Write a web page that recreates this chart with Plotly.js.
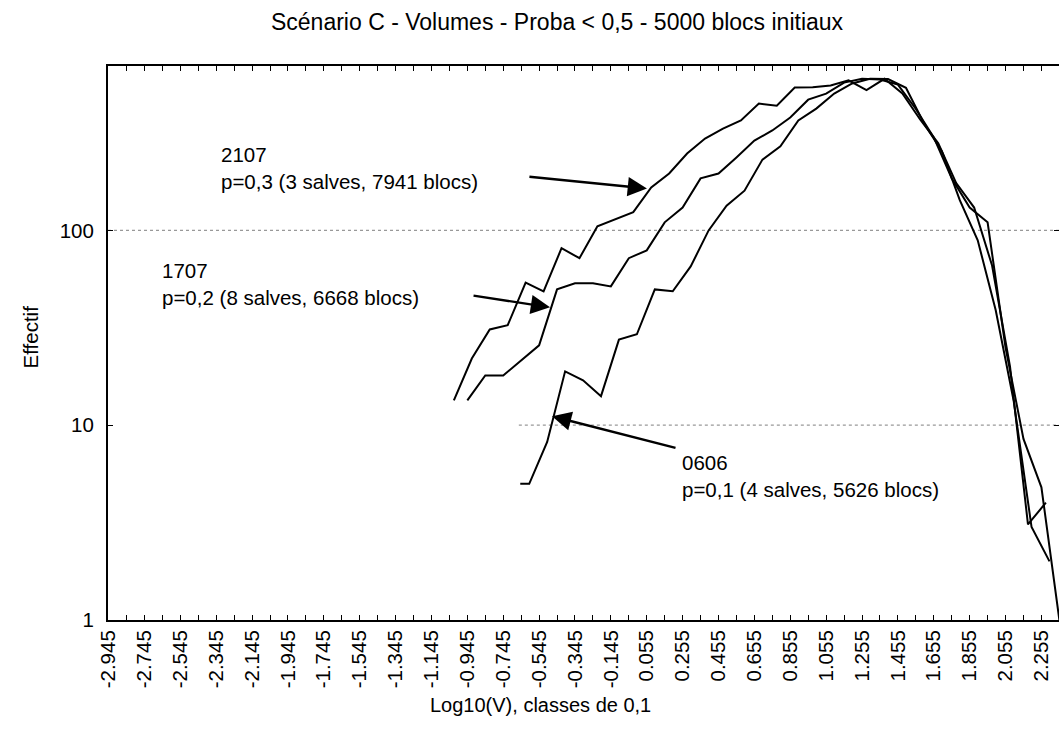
<!DOCTYPE html>
<html>
<head>
<meta charset="utf-8">
<script src="https://cdn.plot.ly/plotly-3.0.1.min.js"></script>
<style>
html,body{margin:0;padding:0;background:#fff;}
#chart{width:1059px;height:740px;}
</style>
</head>
<body>
<div id="chart"></div>
<script>
// Class positions (log10 V) and counts for each series
const x2107 = [-1.02,-0.92,-0.82,-0.72,-0.62,-0.52,-0.42,-0.32,-0.22,-0.12,-0.02,0.08,0.18,0.28,0.38,0.48,0.58,0.68,0.78,0.88,0.98,1.08,1.18,1.28,1.38,1.48,1.58,1.68,1.78,1.88,1.98,2.08,2.18,2.28];
const y2107 = [13.4,22,31,32.6,54,48.7,81,72,105,114,124,166,196,248,296,333,367,448,437,541,543,554,590,525,600,505,370,280,175,131,66,20,3.1,4.0];

const x1707 = [-0.945,-0.845,-0.745,-0.645,-0.545,-0.445,-0.345,-0.245,-0.145,-0.045,0.055,0.155,0.255,0.355,0.455,0.555,0.655,0.755,0.855,0.955,1.055,1.155,1.255,1.355,1.455,1.555,1.655,1.755,1.855,1.955,2.055,2.155,2.255,2.355];
const y1707 = [13.4,18,18,21.5,25.7,49.8,53.5,53.5,51.6,72,79,110,131,185,196,237,289,326,380,469,504,574,600,595,560,420,300,185,131,110,25,8.5,4.8,1];

const x0606 = [-0.65,-0.6,-0.5,-0.4,-0.3,-0.2,-0.1,0.0,0.1,0.2,0.3,0.4,0.5,0.6,0.7,0.8,0.9,1.0,1.1,1.2,1.3,1.4,1.5,1.6,1.7,1.8,1.9,2.0,2.1,2.2,2.3];
const y0606 = [5,5,8.2,18.9,17,14.1,27.5,29.3,49.8,48.7,65.3,100,134,160,231,270,367,422,504,568,600,598,540,355,255,143,89,39,13.4,3.0,2.0];

const tickLabels = ["-2.945","-2.745","-2.545","-2.345","-2.145","-1.945","-1.745","-1.545","-1.345","-1.145","-0.945","-0.745","-0.545","-0.345","-0.145","0.055","0.255","0.455","0.655","0.855","1.055","1.255","1.455","1.655","1.855","2.055","2.255"];
const yTicks = [1, 10, 100];

const tickVals = tickLabels.map(Number);
// unlabelled ticks every 0.1 between the labelled ones
const allTickVals = [];
const allTickText = [];
tickVals.forEach((v, i) => {
  allTickVals.push(v); allTickText.push(tickLabels[i]);
  allTickVals.push(Math.round((v + 0.1) * 1000) / 1000); allTickText.push('');
});

const lineStyle = {color: '#000', width: 2};
const traces = [
  {x: x2107, y: y2107, mode: 'lines', line: lineStyle, name: '2107'},
  {x: x1707, y: y1707, mode: 'lines', line: lineStyle, name: '1707'},
  {x: x0606, y: y0606, mode: 'lines', line: lineStyle, name: '0606'}
];

const FONT = 'Liberation Sans, Arial, sans-serif';
const fs = 20.5;
const f = (s) => ({family: FONT, size: s, color: '#000'});
const arrowCommon = {xref: 'x', yref: 'y', text: '', showarrow: true, arrowhead: 2, arrowsize: 1.6, arrowwidth: 2.4, arrowcolor: '#000', standoff: 0};

const layout = {
  width: 1059, height: 740,
  margin: {l: 108, r: 0, t: 66, b: 120, pad: 0},
  paper_bgcolor: '#fff', plot_bgcolor: '#fff',
  showlegend: false,
  font: f(fs),
  title: {text: 'Scénario C - Volumes - Proba < 0,5 - 5000 blocs initiaux', x: 0.526, xanchor: 'center', y: 0.97, yanchor: 'middle', font: f(23)},
  xaxis: {
    range: [-2.948, 2.353],
    tickmode: 'array', tickvals: allTickVals, ticktext: allTickText,
    tickangle: -90, ticks: 'inside', ticklen: 5, tickwidth: 1, tickcolor: '#000',
    showline: true, linecolor: '#000', linewidth: 2, mirror: 'ticks',
    showgrid: false, zeroline: false,
    tickfont: f(fs)
  },
  yaxis: {
    type: 'log', range: [0, 2.844],
    tickmode: 'array', tickvals: yTicks, ticktext: yTicks.map(String),
    ticks: 'inside', ticklen: 5, tickwidth: 1, tickcolor: '#000',
    ticklabelstandoff: 8,
    showline: true, linecolor: '#000', linewidth: 2, mirror: 'ticks',
    showgrid: false, zeroline: false,
    tickfont: f(fs)
  },
  shapes: [
    {type: 'line', xref: 'paper', yref: 'y', x0: 0, x1: 1, y0: 100, y1: 100, layer: 'below', line: {color: '#999', width: 1.2, dash: 'dot'}},
    {type: 'line', xref: 'paper', yref: 'y', x0: 0.432, x1: 1, y0: 10, y1: 10, layer: 'below', line: {color: '#999', width: 1.2, dash: 'dot'}}
  ],
  annotations: [
    {xref: 'paper', yref: 'paper', x: 0.455, y: -0.153, xanchor: 'center', yanchor: 'middle', showarrow: false, text: 'Log10(V), classes de 0,1', font: f(20)},
    {xref: 'paper', yref: 'paper', x: 0, xshift: -78, y: 0.51, xanchor: 'center', yanchor: 'middle', textangle: -90, showarrow: false, text: 'Effectif', font: f(fs)},
    {xref: 'paper', yref: 'paper', x: 0.117, y: 0.815, xanchor: 'left', yanchor: 'middle', align: 'left', showarrow: false, text: '2107<br>p=0,3 (3 salves, 7941 blocs)', font: f(fs)},
    {xref: 'paper', yref: 'paper', x: 0.055, y: 0.607, xanchor: 'left', yanchor: 'middle', align: 'left', showarrow: false, text: '1707<br>p=0,2 (8 salves, 6668 blocs)', font: f(fs)},
    {xref: 'paper', yref: 'paper', x: 0.601, y: 0.26, xanchor: 'left', yanchor: 'middle', align: 'left', showarrow: false, text: '0606<br>p=0,1 (4 salves, 5626 blocs)', font: f(fs)},
    Object.assign({x: 0.056, y: 2.215, ax: -119, ay: -12}, arrowCommon),
    Object.assign({x: -0.484, y: 1.605, ax: -78, ay: -12}, arrowCommon),
    Object.assign({x: -0.473, y: 1.046, ax: 125, ay: 32}, arrowCommon)
  ]
};

Plotly.newPlot('chart', traces, layout, {displayModeBar: false, staticPlot: true});
</script>
</body>
</html>
